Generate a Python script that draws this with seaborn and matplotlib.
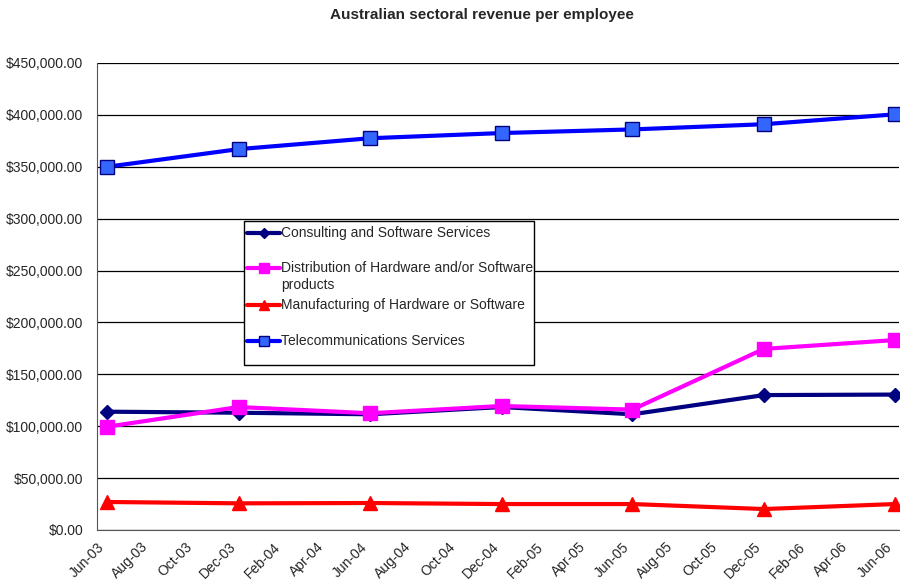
import matplotlib
matplotlib.use("Agg")
import matplotlib.pyplot as plt
import matplotlib.dates as mdates
from matplotlib.ticker import FuncFormatter
from matplotlib.lines import Line2D
from matplotlib.patches import Rectangle
import seaborn as sns
import pandas as pd

# Survey periods (mid-month observations)
periods = ["2003-06-15", "2003-12-15", "2004-06-15", "2004-12-15",
           "2005-06-15", "2005-12-15", "2006-06-15"]

consulting = [114000, 113000, 111500, 118500, 111500, 130000, 130500]
distribution = [99500, 118500, 112500, 119500, 116000, 174500, 183000]
manufacturing = [27000, 25700, 26000, 25000, 25000, 20200, 25000]
telecom = [350000, 367000, 377500, 382500, 386000, 391000, 400500]

series_names = [
    "Consulting and Software Services",
    "Distribution of Hardware and/or Software\nproducts",
    "Manufacturing of Hardware or Software",
    "Telecommunications Services",
]
series_values = [consulting, distribution, manufacturing, telecom]
line_colors = ["#000080", "#FF00FF", "#FF0000", "#0000FF"]
marker_shapes = ["D", "s", "^", "s"]
face_colors = ["#000080", "#FF00FF", "#FF0000", "#3366FF"]
edge_colors = ["#000080", "#FF00FF", "#FF0000", "#000080"]
marker_sizes = [7, 10, 10, 10]

frames = []
for name, vals in zip(series_names, series_values):
    frames.append(pd.DataFrame({"period": pd.to_datetime(periods),
                                "revenue": vals, "sector": name}))
df = pd.concat(frames, ignore_index=True)

sns.set_style("white")
plt.rcParams["font.family"] = ["Liberation Sans", "DejaVu Sans"]

W, H = 900, 588
fig = plt.figure(figsize=(W / 100, H / 100), dpi=100)
ax = fig.add_axes([97 / W, 1 - 530 / H, 802 / W, (530 - 63) / H])

for name, col, mk, fc, ec, ms in zip(series_names, line_colors, marker_shapes,
                                     face_colors, edge_colors, marker_sizes):
    sub = df[df["sector"] == name]
    sns.lineplot(data=sub, x="period", y="revenue", ax=ax, color=col,
                 linewidth=3, marker=mk, markersize=ms,
                 markerfacecolor=fc, markeredgecolor=ec, markeredgewidth=1,
                 legend=False, zorder=3)

ax.set_ylim(0, 450000)
ax.set_yticks(range(0, 450001, 50000))
ax.yaxis.set_major_formatter(FuncFormatter(lambda v, p: f"${v:,.2f}"))
ax.set_xlim(pd.Timestamp("2003-06-01"), pd.Timestamp("2006-06-21"))
ax.xaxis.set_major_locator(mdates.MonthLocator(bymonth=[2, 4, 6, 8, 10, 12]))
ax.xaxis.set_major_formatter(mdates.DateFormatter("%b-%y"))
ax.set_xlabel("")
ax.set_ylabel("")

ax.grid(axis="y", color="black", linewidth=0.9)
ax.grid(axis="x", visible=False)
ax.set_axisbelow(True)
for side in ["top", "right"]:
    ax.spines[side].set_visible(False)
ax.spines["left"].set_color("#555555")
ax.spines["bottom"].set_color("#555555")
ax.tick_params(axis="both", which="major", direction="out", length=4,
               color="#555555", labelsize=10, width=1)
ax.tick_params(axis="y", pad=6)
ax.tick_params(axis="x", pad=3)
plt.setp(ax.get_xticklabels(), rotation=45, ha="right", rotation_mode="anchor")

fig.text(482 / W, 1 - 15 / H, "Australian sectoral revenue per employee",
         ha="center", va="center", fontsize=11, fontweight="bold")


# Legend box with equal-height slots, text top-aligned in each slot
def fx(px):
    return px / W


def fy(py):
    return 1 - py / H


box = Rectangle((fx(244), fy(365)), fx(534) - fx(244), fy(221) - fy(365),
                transform=fig.transFigure, facecolor="white",
                edgecolor="black", linewidth=1, zorder=5)
fig.add_artist(box)
row_y = [233, 268, 305, 341]
for name, col, mk, fc, ec, ms, yy in zip(series_names, line_colors,
                                         marker_shapes, face_colors,
                                         edge_colors, marker_sizes, row_y):
    handle = Line2D([fx(247), fx(280)], [fy(yy), fy(yy)],
                    transform=fig.transFigure, color=col, linewidth=3,
                    zorder=6)
    fig.add_artist(handle)
    dot = Line2D([fx(263.5)], [fy(yy)], transform=fig.transFigure,
                 marker=mk, markersize=ms * 0.75, markerfacecolor=fc,
                 markeredgecolor=ec, linestyle="none", zorder=7)
    fig.add_artist(dot)
    fig.text(fx(281), fy(yy - 7), name, ha="left", va="top", fontsize=10,
             linespacing=1.25, zorder=7)

fig.savefig("out.png", dpi=100)
